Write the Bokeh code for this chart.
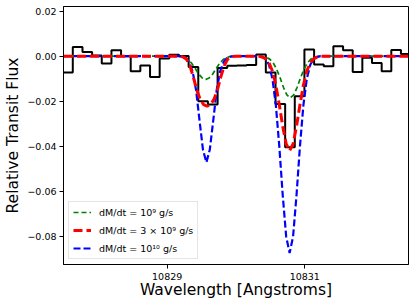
from bokeh.plotting import figure
from bokeh.models import Range1d, FixedTicker, CustomJSTickFormatter, Legend, LegendItem
from bokeh.embed import file_html
from bokeh.resources import INLINE

# ---------------- data ----------------
# observed binned spectrum: bin edges [Angstrom] and relative transit flux per bin
bin_edges = [10827.488, 10827.628, 10827.769, 10827.909, 10828.049, 10828.190,
             10828.330, 10828.470, 10828.610, 10828.751, 10828.891, 10829.031,
             10829.172, 10829.312, 10829.452, 10829.592, 10829.733, 10829.873,
             10830.013, 10830.154, 10830.294, 10830.434, 10830.575, 10830.715,
             10830.855, 10830.995, 10831.136, 10831.276, 10831.416, 10831.557,
             10831.697, 10831.837, 10831.977, 10832.118, 10832.258, 10832.398,
             10832.539]
obs_flux = [-0.0072, 0.0041, 0.0019, 0.0003, -0.0032, 0.0027,
            0.0000, -0.0067, -0.0041, -0.0092, -0.0010, 0.0007,
            0.0001, -0.0048, -0.0200, -0.0215, -0.0052, -0.0042,
            -0.0041, -0.0039, 0.0008, -0.0072, -0.0212, -0.0405,
            -0.0178, 0.0030, -0.0037, -0.0045, 0.0044, 0.0027,
            -0.0070, -0.0007, -0.0030, -0.0067, 0.0028, 0.0010]

# model: dM/dt = 1e9 g/s (green)
wl_1e9 = [10827.50,
          10829.16, 10829.21, 10829.26, 10829.31, 10829.36, 10829.41, 10829.46, 10829.51, 10829.56,
          10829.61, 10829.66, 10829.71, 10829.76, 10829.81, 10829.86, 10829.91, 10829.96,
          10830.34, 10830.39, 10830.44, 10830.49, 10830.54, 10830.59, 10830.64, 10830.69, 10830.74,
          10830.79, 10830.84, 10830.89, 10830.94, 10830.99, 10831.04, 10831.09, 10831.14, 10831.19,
          10831.24,
          10832.50]
flux_1e9 = [0.0,
            0.0, -0.0002, -0.0006, -0.0016, -0.0033, -0.0056, -0.0080, -0.0097, -0.0104,
            -0.0097, -0.0080, -0.0056, -0.0033, -0.0016, -0.0006, -0.0002, 0.0,
            0.0, -0.0002, -0.0005, -0.0013, -0.0029, -0.0057, -0.0095, -0.0138, -0.0172,
            -0.0185, -0.0172, -0.0138, -0.0095, -0.0057, -0.0029, -0.0013, -0.0005, -0.0002,
            0.0,
            0.0]

# model: dM/dt = 3e9 g/s (red)
wl_3e9 = [10827.50,
          10829.18, 10829.23, 10829.28, 10829.33, 10829.38, 10829.43, 10829.48, 10829.53, 10829.58,
          10829.63, 10829.68, 10829.73, 10829.78, 10829.83, 10829.88, 10829.93, 10829.98,
          10830.33, 10830.38, 10830.43, 10830.48, 10830.53, 10830.58, 10830.63, 10830.68, 10830.73,
          10830.78, 10830.83, 10830.88, 10830.93, 10830.98, 10831.03, 10831.08, 10831.13, 10831.18,
          10831.23,
          10832.50]
flux_3e9 = [0.0,
            0.0, -0.0003, -0.0013, -0.0042, -0.0092, -0.0150, -0.0192, -0.0215, -0.0222,
            -0.0215, -0.0192, -0.0150, -0.0092, -0.0042, -0.0013, -0.0003, 0.0,
            0.0, -0.0004, -0.0011, -0.0029, -0.0066, -0.0129, -0.0216, -0.0312, -0.0390,
            -0.0420, -0.0390, -0.0312, -0.0216, -0.0129, -0.0066, -0.0029, -0.0011, -0.0004,
            0.0,
            0.0]

# model: dM/dt = 1e10 g/s (blue)
wl_1e10 = [10827.50,
           10829.17, 10829.22, 10829.27, 10829.32, 10829.37, 10829.42, 10829.47, 10829.52, 10829.57,
           10829.62, 10829.67, 10829.72, 10829.77, 10829.82, 10829.87, 10829.92, 10829.97,
           10830.33, 10830.38, 10830.43, 10830.48, 10830.53, 10830.58, 10830.63, 10830.68, 10830.73,
           10830.78, 10830.83, 10830.88, 10830.93, 10830.98, 10831.03, 10831.08, 10831.13, 10831.18,
           10831.23,
           10832.50]
flux_1e10 = [0.0,
             0.0, -0.0002, -0.0008, -0.0026, -0.0068, -0.0150, -0.0285, -0.0415, -0.0472,
             -0.0415, -0.0285, -0.0150, -0.0068, -0.0026, -0.0008, -0.0002, 0.0,
             0.0, -0.0003, -0.0012, -0.0038, -0.0100, -0.0218, -0.0401, -0.0619, -0.0802,
             -0.0875, -0.0802, -0.0619, -0.0401, -0.0218, -0.0100, -0.0038, -0.0012, -0.0003,
             0.0,
             0.0]

labels = ["dM/dt = 10\u2079 g/s",
          "dM/dt = 3 \u00d7 10\u2079 g/s",
          "dM/dt = 10\u00b9\u2070 g/s"]

x_ticks = [10829, 10831]
y_ticks = [0.02, 0.0, -0.02, -0.04, -0.06, -0.08]

x_label = "Wavelength [Angstroms]"
y_label = "Relative Transit Flux"

# ---------------- figure ----------------
p = figure(width=415, height=306, output_backend="svg", toolbar_location=None,
           x_range=Range1d(10827.493, 10832.508), y_range=Range1d(-0.09258, 0.02209),
           min_border_left=63, min_border_right=7, min_border_top=6, min_border_bottom=42)
p.xgrid.visible = False
p.ygrid.visible = False
p.outline_line_color = "black"
p.outline_line_width = 1
p.outline_line_alpha = 1.0
p.background_fill_color = "white"
p.border_fill_color = "white"

for ax in (p.xaxis[0], p.yaxis[0]):
    ax.axis_line_color = "black"
    ax.major_tick_line_color = "black"
    ax.major_tick_out = 4
    ax.major_tick_in = 0
    ax.minor_tick_out = 0
    ax.minor_tick_in = 0
    ax.major_label_text_font = "DejaVu Sans"
    ax.major_label_text_font_size = "9.5px"
    ax.major_label_text_color = "black"
    ax.axis_label_text_font = "DejaVu Sans"
    ax.axis_label_text_font_size = "15.5px"
    ax.axis_label_text_font_style = "normal"
    ax.axis_label_text_color = "black"

p.xaxis.ticker = FixedTicker(ticks=x_ticks)
p.yaxis.ticker = FixedTicker(ticks=y_ticks)
p.yaxis.formatter = CustomJSTickFormatter(
    code="return (tick < -1e-9 ? '\u2212' : '') + Math.abs(tick).toFixed(2);")
p.xaxis.formatter = CustomJSTickFormatter(code="return tick.toFixed(0);")
p.xaxis.axis_label = x_label
p.yaxis.axis_label = y_label
p.xaxis.major_label_standoff = 4
p.xaxis.axis_label_standoff = -2
p.yaxis.major_label_standoff = 3
p.yaxis.axis_label_standoff = 2

# observed spectrum as steps
p.step(x=bin_edges, y=obs_flux + [obs_flux[-1]], mode="after",
       line_color="black", line_width=2)

r_g = p.line(wl_1e9, flux_1e9, line_color="green", line_width=1.7, line_dash="5 3")
r_b = p.line(wl_1e10, flux_1e10, line_color="blue", line_width=2.2, line_dash="7 3")
r_r = p.line(wl_3e9, flux_3e9, line_color="red", line_width=3, line_dash="9 4")

legend = Legend(items=[LegendItem(label=labels[0], renderers=[r_g]),
                       LegendItem(label=labels[1], renderers=[r_r]),
                       LegendItem(label=labels[2], renderers=[r_b])],
                location="bottom_left", margin=5, padding=4, spacing=6,
                glyph_width=18, glyph_height=12, label_height=12, label_standoff=8,
                label_text_font="DejaVu Sans", label_text_font_size="9.5px",
                label_text_color="black",
                border_line_color="#cccccc", border_line_width=1,
                background_fill_color="white", background_fill_alpha=0.8)
p.add_layout(legend)

open("out.html", "w").write(file_html(p, INLINE))
